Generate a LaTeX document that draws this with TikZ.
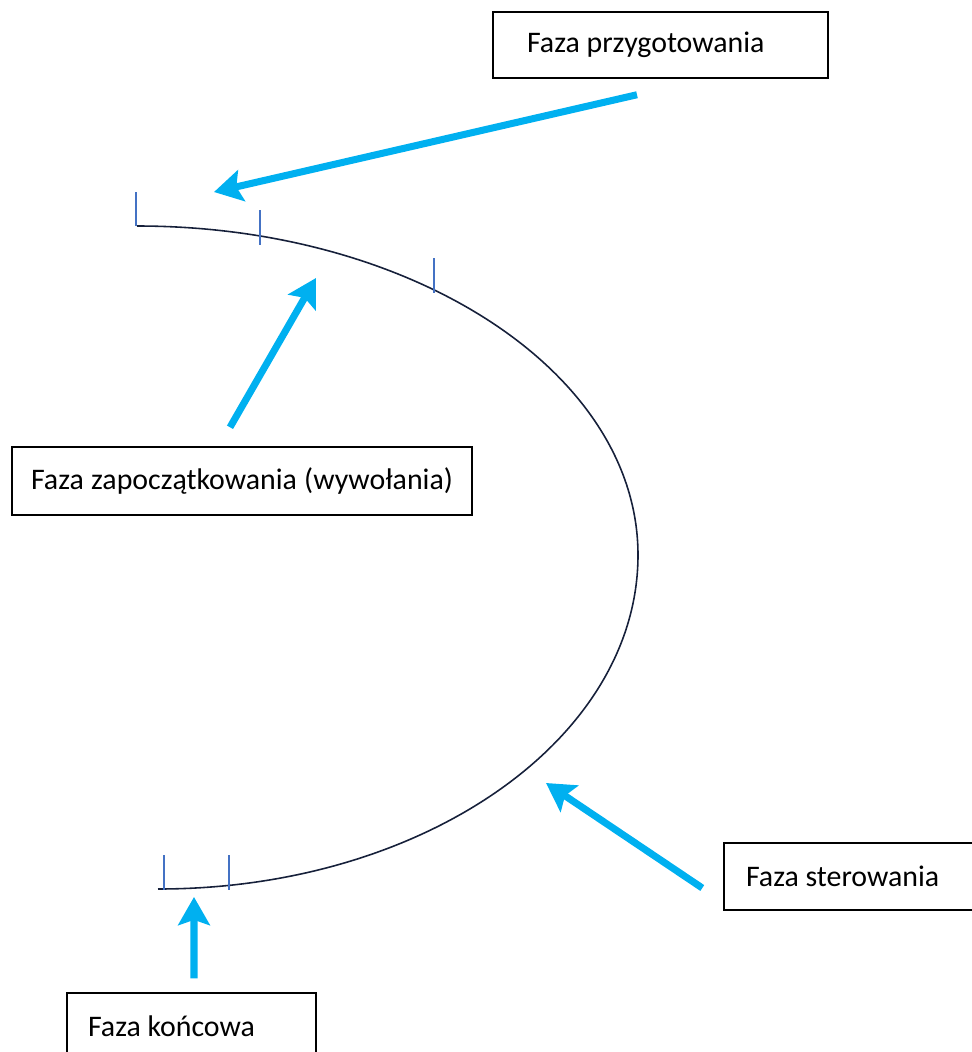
\documentclass[tikz,border=0pt]{standalone}
\usepackage{fontspec}
\setmainfont{Carlito}
\usetikzlibrary{arrows.meta}
\definecolor{phasecyan}{RGB}{0,176,240}
\definecolor{tickblue}{RGB}{68,114,196}
\definecolor{curvenavy}{RGB}{22,32,58}

\begin{document}
\begin{tikzpicture}[x=0.02cm, y=-0.02cm,
phasebox/.style={rectangle, draw=black, line width=0.85pt, fill=white, inner ysep=0pt, font=\fontsize{17}{20}\selectfont,
  execute at begin node={\spaceskip=0pt\relax\xspaceskip=0pt\relax}},
phasearrow/.style={draw=phasecyan, line width=4pt, -{Stealth[length=16pt, width=18pt, inset=3pt]}},
phasetick/.style={draw=tickblue, line width=0.6pt},
phasecurve/.style={draw=curvenavy, line width=0.9pt}]
\useasboundingbox (0,0) rectangle (972,1052);
\clip (0,0) rectangle (972,1052);

\node[phasebox, minimum width=6.7cm, minimum height=1.32cm, inner xsep=0.68cm, text width=5.34cm, align=left](prep) at (660.5, 45) {Faza przygotowania};
\node[phasebox, minimum width=9.2cm, minimum height=1.36cm, inner xsep=0.2cm, text width=8.8cm, align=center](init) at (242, 481) {Faza zapoczątkowania (wywołania)};
\node[phasebox, minimum width=6cm, minimum height=1.34cm, inner xsep=0.44cm, text width=5.12cm, align=left](ctrl) at (874, 876.5) {Faza sterowania};
\node[phasebox, minimum width=4.98cm, minimum height=1.32cm, inner xsep=0.42cm, text width=4.14cm, align=left](final) at (191.5, 1026) {Faza końcowa};

% the curve of the phases
\draw[phasecurve] (137, 226) .. controls (414, 226) and (638, 373) .. (638, 555)
  .. controls (638, 739) and (424, 889) .. (158, 889);

\draw[phasetick] (136, 192) -- (136, 226);
\draw[phasetick] (260, 210) -- (260, 245);
\draw[phasetick] (434, 258) -- (434, 293);
\draw[phasetick] (164, 855) -- (164, 890);
\draw[phasetick] (229, 855) -- (229, 890);

\coordinate (prepTail) at ([shift={(-23.5, 16)}]prep.south);
\coordinate (initTail) at ([shift={(-12, -19)}]init.north);
\coordinate (ctrlTail) at ([shift={(-21, 11.5)}]ctrl.west);
\coordinate (finalTail) at ([shift={(2.5, -14)}]final.north);
\coordinate (prepTip) at (214, 192);
\coordinate (initTip) at (316, 278);
\coordinate (ctrlTip) at (546, 783);
\coordinate (finalTip) at (194, 897);

\draw[phasearrow](prepTail) -- (prepTip);
\draw[phasearrow](initTail) -- (initTip);
\draw[phasearrow](ctrlTail) -- (ctrlTip);
\draw[phasearrow](finalTail) -- (finalTip);

\end{tikzpicture}
\end{document}
